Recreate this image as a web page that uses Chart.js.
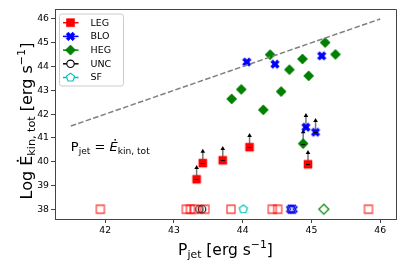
<!DOCTYPE html>
<html>
<head>
<meta charset="utf-8">
<script src="https://cdn.jsdelivr.net/npm/chart.js@4.4.0/dist/chart.umd.min.js"></script>
<style>html,body{margin:0;padding:0;background:#fff}</style>
</head>
<body>
<canvas id="c" width="407" height="271"></canvas>
<script>
// detections; the *Lim arrays are lower limits (drawn with an up arrow)
const legLimX = [43.33, 43.42, 43.71, 44.10, 44.95];
const legLimY = [39.26, 39.94, 40.06, 40.61, 39.89];
const bloX = [44.06, 44.47, 45.15];
const bloY = [44.19, 44.10, 44.45];
const bloLimX = [44.92, 45.06];
const bloLimY = [41.45, 41.24];
const hegX = [43.84, 43.98, 44.30, 44.56, 44.40, 44.68, 44.87, 44.96, 45.20, 45.35];
const hegY = [42.64, 43.04, 42.18, 42.95, 44.50, 43.87, 44.32, 43.61, 45.01, 44.51];
const hegLimX = [44.88];
const hegLimY = [40.76];

// non detections, put on the floor value
const floorY = 38;
const legNdX = [41.93, 43.18, 43.24, 43.30, 43.45, 43.83, 44.43, 44.51, 45.83];
const bloNdX = [44.70, 44.73];
const hegNdX = [45.18];
const uncNdX = [43.37, 43.41, 44.71];
const sfNdX = [44.01];

// one to one line
const oneX = [41.5, 46];
const oneY = [41.5, 46];

const xTicks = [42, 43, 44, 45, 46];
const yTicks = [38, 39, 40, 41, 42, 43, 44, 45, 46];
const classes = ['LEG', 'BLO', 'HEG', 'UNC', 'SF'];

const RED = '#ff0000', BLUE = '#0000ff', GREEN = '#008000', BLACK = '#000000', CYAN = '#00bfbf';
const ARROW = 0.6; // length of limit arrows, dex

function drawMarker(g, kind, x, y, fill, stroke, lw) {
  g.beginPath();
  if (kind === 'square') {
    g.rect(x - 4, y - 4, 8, 8);
  } else if (kind === 'diamond') {
    g.moveTo(x, y - 5); g.lineTo(x + 5, y); g.lineTo(x, y + 5); g.lineTo(x - 5, y);
    g.closePath();
  } else if (kind === 'circle') {
    g.arc(x, y, 3.7, 0, Math.PI * 2);
  } else if (kind === 'pent') {
    for (let i = 0; i < 5; i++) {
      const a = -Math.PI / 2 + i * 2 * Math.PI / 5;
      const px = x + 4.3 * Math.cos(a), py = y + 4.3 * Math.sin(a);
      i ? g.lineTo(px, py) : g.moveTo(px, py);
    }
    g.closePath();
  } else if (kind === 'X') {
    const v = [[-0.25,-0.5],[0,-0.25],[0.25,-0.5],[0.5,-0.25],[0.25,0],[0.5,0.25],
               [0.25,0.5],[0,0.25],[-0.25,0.5],[-0.5,0.25],[-0.25,0],[-0.5,-0.25]];
    v.forEach((p, i) => {
      const px = x + p[0] * 8.5, py = y + p[1] * 8.5;
      i ? g.lineTo(px, py) : g.moveTo(px, py);
    });
    g.closePath();
  }
  if (fill) { g.fillStyle = fill; g.fill(); }
  if (stroke) { g.strokeStyle = stroke; g.lineWidth = lw; g.stroke(); }
}

function markerCanvas(kind, fill, stroke, lw) {
  const c = document.createElement('canvas');
  c.width = 14; c.height = 14;
  drawMarker(c.getContext('2d'), kind, 7, 7, fill, stroke, lw);
  return c;
}

const legendMarkers = [
  ['square', RED, 'rgba(255,0,0,0.6)', 1, RED],
  ['X', BLUE, BLUE, 0.8, BLUE],
  ['diamond', GREEN, GREEN, 0.8, GREEN],
  ['circle', null, BLACK, 1.1, BLACK],
  ['pent', null, CYAN, 1.1, CYAN]
];

const pts = (xs, ys) => xs.map((x, i) => ({ x: x, y: ys[i] }));
const floor = xs => xs.map(x => ({ x: x, y: floorY }));

function scatterSet(label, data, canvas, lim) {
  return { label: label, data: data, pointStyle: canvas, pointRadius: 5, pointHoverRadius: 5, showLine: false, lim: lim };
}

const datasets = [
  { type: 'line', label: '1:1', data: pts(oneX, oneY), borderColor: '#808080', borderWidth: 1.5,
    borderDash: [5.5, 2.4], pointRadius: 0, fill: false },
  scatterSet('LEG', pts(legLimX, legLimY), markerCanvas('square', RED, 'rgba(255,0,0,0.6)', 1), true),
  scatterSet('BLO', pts(bloX, bloY), markerCanvas('X', BLUE, BLUE, 0.8), false),
  scatterSet('BLO lim', pts(bloLimX, bloLimY), markerCanvas('X', BLUE, BLUE, 0.8), true),
  scatterSet('HEG', pts(hegX, hegY), markerCanvas('diamond', GREEN, GREEN, 0.8), false),
  scatterSet('HEG lim', pts(hegLimX, hegLimY), markerCanvas('diamond', GREEN, GREEN, 0.8), true),
  scatterSet('LEG nd', floor(legNdX), markerCanvas('square', null, 'rgba(255,0,0,0.75)', 1.3), false),
  scatterSet('BLO nd', floor(bloNdX), markerCanvas('X', null, BLUE, 1.1), false),
  scatterSet('HEG nd', floor(hegNdX), markerCanvas('diamond', null, GREEN, 1.2), false),
  scatterSet('UNC nd', floor(uncNdX), markerCanvas('circle', null, BLACK, 1.1), false),
  scatterSet('SF nd', floor(sfNdX), markerCanvas('pent', null, CYAN, 1.2), false)
];

// rich text: segments {t, s: size factor, dy: shift in em of base size, dot, it}
function richWidth(g, segs, F) {
  let w = 0;
  segs.forEach(sg => {
    g.font = (sg.it ? 'italic ' : '') + (F * (sg.s || 1)) + 'px "DejaVu Sans"';
    w += g.measureText(sg.t).width;
  });
  return w;
}
function drawRich(g, segs, F, x, y) {
  let cx = x;
  g.textBaseline = 'alphabetic';
  g.textAlign = 'left';
  segs.forEach(sg => {
    const size = F * (sg.s || 1);
    g.font = (sg.it ? 'italic ' : '') + size + 'px "DejaVu Sans"';
    const w = g.measureText(sg.t).width;
    g.fillText(sg.t, cx, y + (sg.dy || 0) * F);
    if (sg.dot) {
      g.beginPath();
      g.arc(cx + w / 2 + (sg.it ? F * 0.12 : 0), y - F * 0.86, F * 0.07, 0, Math.PI * 2);
      g.fill();
    }
    cx += w;
  });
}

const xLabel = [{ t: 'P' }, { t: 'jet', s: 0.7, dy: 0.2 }, { t: ' [erg s' }, { t: '\u22121', s: 0.7, dy: -0.42 }, { t: ']' }];
const yLabel = [{ t: 'Log ' }, { t: 'E', dot: true }, { t: 'kin, tot', s: 0.7, dy: 0.2 }, { t: ' [erg s' }, { t: '\u22121', s: 0.7, dy: -0.42 }, { t: ']' }];
const note = [{ t: 'P' }, { t: 'jet', s: 0.7, dy: 0.2 }, { t: ' = ' }, { t: 'E', it: true, dot: true }, { t: 'kin, tot', s: 0.7, dy: 0.2 }];

const decor = {
  id: 'decor',
  beforeDatasetsDraw(chart) {
    const g = chart.ctx, xs = chart.scales.x, ys = chart.scales.y;
    g.save();
    chart.data.datasets.forEach(ds => {
      if (!ds.lim) return;
      ds.data.forEach(p => {
        const px = xs.getPixelForValue(p.x);
        const py = ys.getPixelForValue(p.y);
        const tip = ys.getPixelForValue(p.y + ARROW);
        g.strokeStyle = '#777'; g.lineWidth = 1.5;
        g.beginPath(); g.moveTo(px, py); g.lineTo(px, tip + 3); g.stroke();
        g.fillStyle = '#000';
        g.beginPath(); g.moveTo(px, tip); g.lineTo(px + 2.3, tip + 4); g.lineTo(px - 2.3, tip + 4); g.closePath(); g.fill();
      });
    });
    g.restore();
  },
  afterDatasetsDraw(chart) {
    const g = chart.ctx, xs = chart.scales.x, ys = chart.scales.y;
    g.save();
    g.strokeStyle = '#000'; g.lineWidth = 1;
    chart.data.datasets.forEach(ds => {
      if (!ds.lim) return;
      ds.data.forEach(p => {
        const px = xs.getPixelForValue(p.x), py = Math.round(ys.getPixelForValue(p.y)) + 0.5;
        g.beginPath(); g.moveTo(px - 2, py); g.lineTo(px + 2, py); g.stroke();
      });
    });
    g.restore();
  },
  afterDraw(chart) {
    const g = chart.ctx, a = chart.chartArea, xs = chart.scales.x, ys = chart.scales.y;
    g.save();
    // top and right spines
    g.strokeStyle = '#444'; g.lineWidth = 1;
    g.beginPath();
    g.moveTo(a.left, a.top + 0.5); g.lineTo(a.right + 0.5, a.top + 0.5); g.lineTo(a.right + 0.5, a.bottom);
    g.stroke();

    // legend
    const bx = 59.5, by = 14, bw = 64, bh = 72;
    g.fillStyle = 'rgba(255,255,255,0.8)';
    g.strokeStyle = '#cccccc'; g.lineWidth = 1;
    g.beginPath(); g.roundRect(bx, by, bw, bh, 2.5); g.fill(); g.stroke();
    classes.forEach((name, i) => {
      const y = by + 8.7 + i * 13.7;
      const m = legendMarkers[i];
      g.strokeStyle = m[4]; g.lineWidth = 1.5;
      g.beginPath(); g.moveTo(bx + 3.5, y); g.lineTo(bx + 19, y); g.stroke();
      drawMarker(g, m[0], bx + 11, y, m[1] || '#fff', m[2], m[3]);
      g.fillStyle = '#000';
      g.font = '9.5px "DejaVu Sans"';
      g.textBaseline = 'middle'; g.textAlign = 'left';
      g.fillText(name, bx + 31, y + 0.5);
    });

    // annotation
    g.fillStyle = '#000';
    drawRich(g, note, 13, xs.getPixelForValue(41.5), ys.getPixelForValue(40.45));

    // axis titles
    const xw = richWidth(g, xLabel, 15.5);
    drawRich(g, xLabel, 15.5, (a.left + a.right) / 2 - xw / 2, 254.5);
    const yw = richWidth(g, yLabel, 16);
    g.translate(31.5, 121);
    g.rotate(-Math.PI / 2);
    drawRich(g, yLabel, 16, -yw / 2, 0);
    g.restore();
  }
};

Chart.defaults.font.family = '"DejaVu Sans"';
Chart.defaults.color = '#000';

new Chart(document.getElementById('c'), {
  type: 'scatter',
  data: { datasets: datasets },
  options: {
    responsive: false,
    animation: false,
    devicePixelRatio: 1,
    layout: { padding: { top: 9, right: 11, left: 0, bottom: 0 } },
    plugins: { legend: { display: false }, tooltip: { enabled: false } },
    scales: {
      x: {
        type: 'linear', min: 41.27, max: 46.23,
        afterBuildTicks: s => { s.ticks = xTicks.map(v => ({ value: v })); },
        afterFit: s => { s.height = 52; },
        grid: { drawOnChartArea: false, drawTicks: true, tickLength: 4, color: '#444' },
        border: { display: true, color: '#444', width: 1 },
        ticks: { font: { size: 9.3 }, padding: 2, color: '#000', maxRotation: 0 }
      },
      y: {
        type: 'linear', min: 37.59, max: 46.42,
        afterBuildTicks: s => { s.ticks = yTicks.map(v => ({ value: v })); },
        afterFit: s => { s.width = 55; },
        grid: { drawOnChartArea: false, drawTicks: true, tickLength: 4, color: '#444' },
        border: { display: true, color: '#444', width: 1 },
        ticks: { font: { size: 9.3 }, padding: 2, color: '#000' }
      }
    }
  },
  plugins: [decor]
});
</script>
</body>
</html>
